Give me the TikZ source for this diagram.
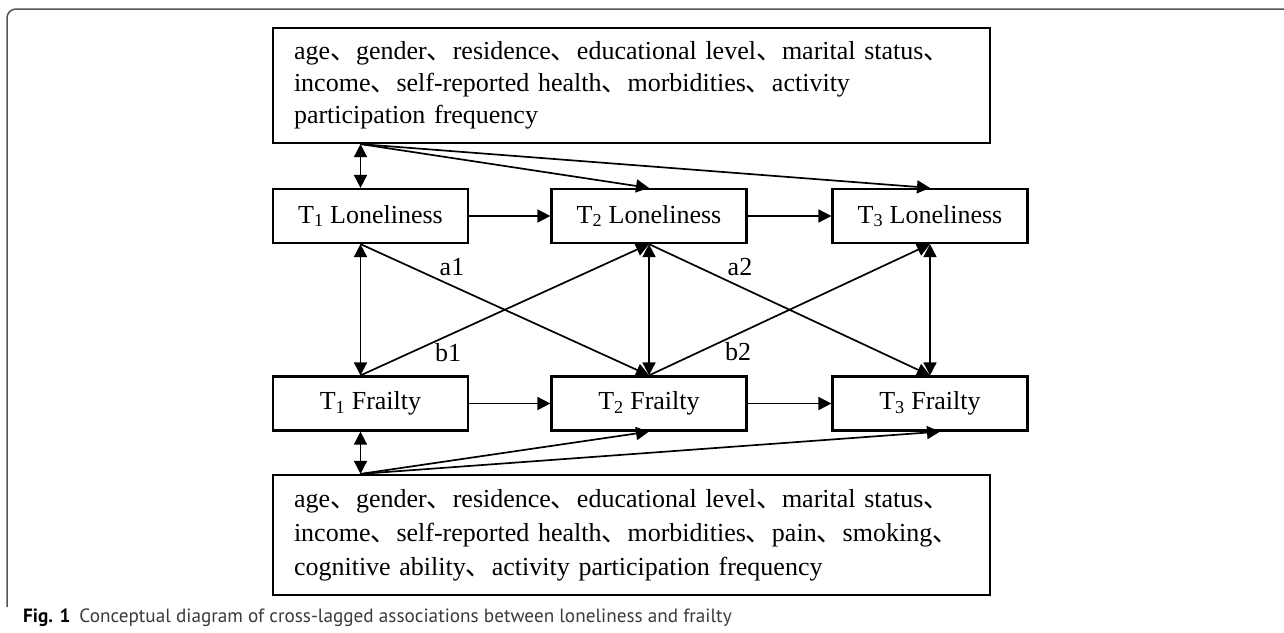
\documentclass[tikz,border=0pt]{standalone}
\usepackage{fontspec}
\setmainfont{Liberation Serif}
\newfontfamily\capfont{PT Sans}
\newfontfamily\cjk{Noto Sans CJK SC}
\usetikzlibrary{arrows.meta}
\newcommand{\dun}{{\cjk 、}}
\definecolor{framegray}{HTML}{555555}
\definecolor{capgray}{HTML}{3A3A3A}

\begin{document}
\begin{tikzpicture}[x=1pt,y=-1pt,
  varbox/.style={draw,line width=2.2pt,minimum width=195pt,minimum height=54pt,inner sep=0pt,font=\fontsize{26}{32}\selectfont},
  covbox/.style={draw,line width=2.2pt,text width=675pt,inner xsep=21pt,inner ysep=0pt,align=left,font=\fontsize{26}{32}\selectfont},
  lag/.style={line width=1.7pt,-{Triangle[length=13pt,width=13pt]}},
  both/.style={line width=1.7pt,{Triangle[length=13pt,width=13pt]}-{Triangle[length=13pt,width=13pt]}},
  coef/.style={font=\fontsize{26}{32}\selectfont,inner sep=0pt}]
\useasboundingbox (0,0) rectangle (1284,632);
\draw[line width=1.5pt,framegray,rounded corners=9pt] (7,607) -- (7,9) -- (1284,9);

\node[covbox,minimum height=115pt] (covl) at (631.5,85.5) {age\dun gender\dun residence\dun educational level\dun marital status\dun\\
income\dun self-reported health\dun morbidities\dun activity\\
participation frequency};

\node[varbox] (l1) at (370.5,216) {T\textsubscript{1} Loneliness};
\node[varbox] (l2) at (649,216) {T\textsubscript{2} Loneliness};
\node[varbox] (l3) at (930,216) {T\textsubscript{3} Loneliness};
\node[varbox] (f1) at (370.5,403.5) {T\textsubscript{1} Frailty};
\node[varbox] (f2) at (649,403.5) {T\textsubscript{2} Frailty};
\node[varbox] (f3) at (930,403.5) {T\textsubscript{3} Frailty};

\node[covbox,minimum height=120pt,font=\fontsize{26}{34}\selectfont] (covf) at (631.5,535) {age\dun gender\dun residence\dun educational level\dun marital status\dun\\
income\dun self-reported health\dun morbidities\dun pain\dun smoking\dun\\
cognitive ability\dun activity participation frequency};

\coordinate (l1n) at ([xshift=-10pt]l1.north);
\coordinate (l1s) at ([xshift=-10pt]l1.south);
\coordinate (f1n) at ([xshift=-10pt]f1.north);
\coordinate (f1s) at ([xshift=-10pt]f1.south);

\draw[both] (covl.south -| l1n) -- (l1n);
\draw[lag] (covl.south -| l1n) -- (l2.north);
\draw[lag] (covl.south -| l1n) -- (l3.north);

\draw[lag] (l1.east) -- (l2.west);
\draw[lag] (l2.east) -- (l3.west);
\draw[lag] (f1.east) -- (f2.west);
\draw[lag] (f2.east) -- (f3.west);

\draw[both] (l1s) -- (f1n);
\draw[lag] (l1s) -- (f2.north);
\draw[lag] (f1n) -- (l2.south);
\draw[both] (l2.south) -- (f2.north);
\draw[lag] (l2.south) -- (f3.north);
\draw[lag] (f2.north) -- (l3.south);
\draw[both] (l3.south) -- (f3.north);

\node[coef] (a1) at (452,267) {a1};
\node[coef] (b1) at (448,353) {b1};
\node[coef] (a2) at (740,267) {a2};
\node[coef] (b2) at (738,352) {b2};

\draw[both] (covf.north -| f1s) -- (f1s);
\draw[lag] (covf.north -| f1s) -- (f2.south);
\draw[lag] (covf.north -| f1s) -- ([xshift=10pt]f3.south);

\node[anchor=base west,inner sep=0pt,font=\capfont\fontsize{19.2}{22}\selectfont] (cap) at (23,622) {\textbf{Fig. 1}\hspace{9pt}{\color{capgray}Conceptual diagram of cross-lagged associations between loneliness and frailty}};
\end{tikzpicture}
\end{document}
